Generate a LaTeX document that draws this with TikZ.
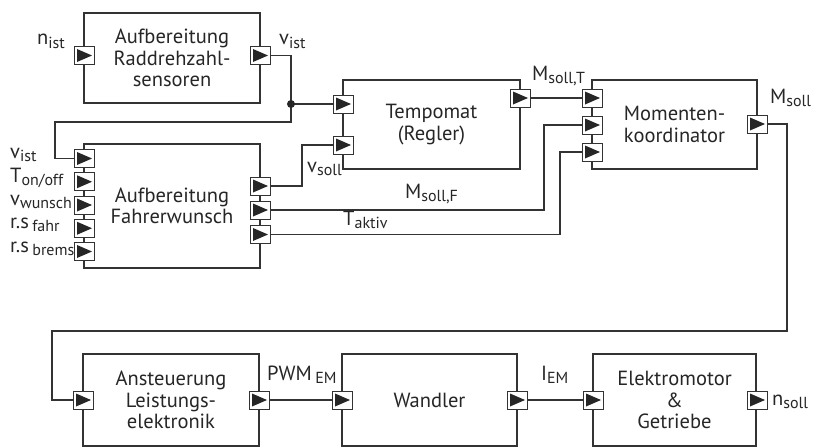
\documentclass[tikz,border=0pt]{standalone}
\usepackage{fontspec}
\setmainfont{PT Sans}
\newcommand\sbs[1]{\raisebox{-3pt}{\fontsize{16}{16}\selectfont #1}}
\begin{document}
\begin{tikzpicture}[x=1pt,y=-1pt,
  blk/.style={draw=black!80, line width=1.1pt, fill=white, align=center, inner sep=0pt,
    font=\fontsize{20.5}{21.5}\selectfont, text=black!85},
  port/.style={draw=black!80, fill=white, line width=0.8pt, minimum width=20pt, minimum height=18pt,
    inner sep=0pt, path picture={\fill[black!85]
      ([xshift=3pt,yshift=2.5pt]path picture bounding box.south west) --
      ([xshift=3pt,yshift=-2.5pt]path picture bounding box.north west) --
      ([xshift=-2pt]path picture bounding box.east) -- cycle;}},
  lbl/.style={anchor=base west, inner sep=0pt, font=\fontsize{20.5}{21.5}\selectfont, text=black!85},
  wire/.style={draw=black!80, line width=1.1pt}]
\useasboundingbox (0,0) rectangle (817,447);

% blocks
\node[blk, minimum width=176pt, minimum height=90pt] (rr) at (172,58) {Aufbereitung\\Raddrehzahl-\\sensoren};
\node[blk, minimum width=176pt, minimum height=124pt] (fw) at (172,206) {Aufbereitung\\Fahrerwunsch};
\node[blk, minimum width=177pt, minimum height=89pt] (tp) at (431.5,124.5) {Tempomat\\(Regler)};
\node[blk, minimum width=165pt, minimum height=89pt] (mk) at (674.5,124.5) {Momenten-\\koordinator};
\node[blk, minimum width=176pt, minimum height=92pt] (an) at (171,400) {Ansteuerung\\Leistungs-\\elektronik};
\node[blk, minimum width=175pt, minimum height=92pt] (wd) at (429.5,400) {Wandler};
\node[blk, minimum width=163pt, minimum height=92pt] (em) at (674.5,400) {Elektromotor\\\&\\Getriebe};

% ports
\node[port] (rr-in) at (84,55.5) {};
\node[port] (rr-out) at (260,55.5) {};
\node[port] (fw-in1) at (84,158.5) {};
\node[port] (fw-in2) at (84,181.75) {};
\node[port] (fw-in3) at (84,205) {};
\node[port] (fw-in4) at (84,228.25) {};
\node[port] (fw-in5) at (84,251.5) {};
\node[port] (fw-out1) at (260,186) {};
\node[port] (fw-out2) at (260,210) {};
\node[port] (fw-out3) at (260,234.5) {};
\node[port] (tp-in1) at (343,104) {};
\node[port] (tp-in2) at (343,145) {};
\node[port] (tp-out) at (520,98) {};
\node[port] (mk-in1) at (592,98) {};
\node[port] (mk-in2) at (592,125) {};
\node[port] (mk-in3) at (592,152) {};
\node[port] (mk-out) at (757,124) {};
\node[port] (an-in) at (83,400) {};
\node[port] (an-out) at (259,400) {};
\node[port] (wd-in) at (342,400) {};
\node[port] (wd-out) at (517,400) {};
\node[port] (em-in) at (593,400) {};
\node[port] (em-out) at (757,400) {};

% wiring
\coordinate (j) at (291,104);
\coordinate (c1) at (55,122);
\coordinate (c2) at (302,145);
\coordinate (c3) at (544,125);
\coordinate (c4) at (560,152);
\coordinate (c5) at (787,331);
\coordinate (c6) at (52,331);
\draw[wire] (rr-out.east) -| (j) -- (tp-in1.west);
\draw[wire] (j) |- (c1) |- (fw-in1.west);
\fill[black!85] (j) circle (4pt);
\draw[wire] (fw-out1.east) -| (c2) -- (tp-in2.west);
\draw[wire] (tp-out.east) -- (mk-in1.west);
\draw[wire] (fw-out2.east) -| (c3) -- (mk-in2.west);
\draw[wire] (fw-out3.east) -| (c4) -- (mk-in3.west);
\draw[wire] (mk-out.east) -| (c5) -- (c6) |- (an-in.west);
\draw[wire] (an-out.east) -- (wd-in.west);
\draw[wire] (wd-out.east) -- (em-in.west);

% labels
\node[lbl] (l-nist) at (37,45) {n\sbs{ist}};
\node[lbl] (l-vist1) at (279,45) {v\sbs{ist}};
\node[lbl] (l-vist2) at (10,158) {v\sbs{ist}};
\node[lbl] (l-ton) at (10,182) {T\sbs{on/off}};
\node[lbl] (l-vw) at (10,205) {v\sbs{wunsch}};
\node[lbl] (l-rsf) at (10,228) {r.s\,\sbs{fahr}};
\node[lbl] (l-rsb) at (10,252) {r.s\,\sbs{brems}};
\node[lbl] (l-vsoll) at (307,172) {v\sbs{soll}};
\node[lbl] (l-msf) at (405,198) {M\sbs{soll,F}};
\node[lbl] (l-tak) at (343,225) {T\sbs{aktiv}};
\node[lbl] (l-mst) at (532,80) {M\sbs{soll,T}};
\node[lbl] (l-ms) at (770,103) {M\sbs{soll}};
\node[lbl] (l-pwm) at (267,380) {PWM\,\sbs{EM}};
\node[lbl] (l-iem) at (541,380) {I\sbs{EM}};
\node[lbl] (l-nsoll) at (772,405) {n\sbs{soll}};
\end{tikzpicture}
\end{document}
